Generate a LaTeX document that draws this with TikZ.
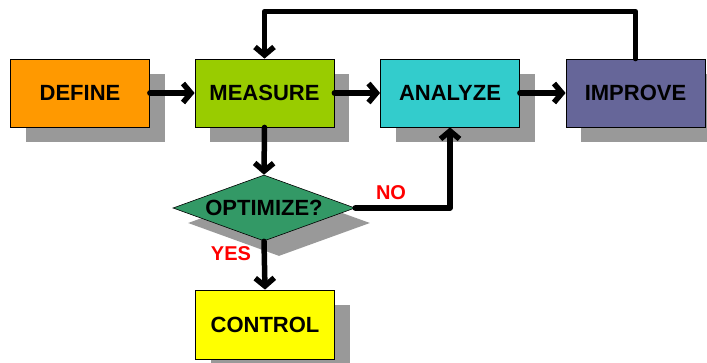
\documentclass[tikz,border=0pt]{standalone}
\usepackage{fontspec}
\setmainfont{Liberation Sans}
\usetikzlibrary{shapes.geometric,arrows.meta,shadows}
\definecolor{cdef}{HTML}{FF9900}
\definecolor{cmea}{HTML}{99CC00}
\definecolor{cana}{HTML}{33CCCC}
\definecolor{cimp}{HTML}{666699}
\definecolor{copt}{HTML}{339966}
\definecolor{ccon}{HTML}{FFFF00}
\definecolor{cshadow}{HTML}{999999}
\definecolor{cred}{HTML}{FF0000}
\begin{document}
\begin{tikzpicture}[x=1pt,y=-1pt,
  shad/.style={drop shadow={fill=cshadow,opacity=1,shadow xshift=15pt,shadow yshift=-15pt}},
  box/.style={shad,draw=black,line width=0.8pt,minimum width=139pt,minimum height=68pt,inner sep=0pt,
    font=\fontsize{22}{24}\selectfont\bfseries},
  decision/.style={shad,diamond,draw=black,line width=0.6pt,fill=copt,minimum width=182pt,minimum height=66pt,
    aspect=2.76,inner sep=0pt,font=\fontsize{22}{24}\selectfont\bfseries},
  lbl/.style={text=cred,font=\fontsize{20}{22}\selectfont\bfseries},
  arr/.style={line width=5.5pt,line cap=round,line join=round,-{Straight Barb[length=8pt,width=19pt]}}]
\useasboundingbox (0,0) rectangle (707,363);
\node[box,fill=cdef] (define) at (80,93) {DEFINE};
\node[box,fill=cmea] (measure) at (264.5,93) {MEASURE};
\node[box,fill=cana] (analyze) at (450,93) {ANALYZE};
\node[box,fill=cimp] (improve) at (635.5,93) {IMPROVE};
\node[decision] (opt) at (264,208) {OPTIMIZE?};
\node[box,fill=ccon,minimum height=69pt] (control) at (265,324.5) {CONTROL};
\node[lbl] (no) at (391,193) {NO};
\node[lbl] (yes) at (231,254) {YES};
\draw[arr] (define.east) -- (measure.west);
\draw[arr] (measure.east) -- (analyze.west);
\draw[arr] (analyze.east) -- (improve.west);
\draw[arr] (improve.north) -- ++(0,-47) -| (measure.north);
\draw[arr] (measure.south) -- (opt.north);
\draw[arr] (opt.east) -| (analyze.south);
\draw[arr] (opt.south) -- (control.north);
\end{tikzpicture}
\end{document}
